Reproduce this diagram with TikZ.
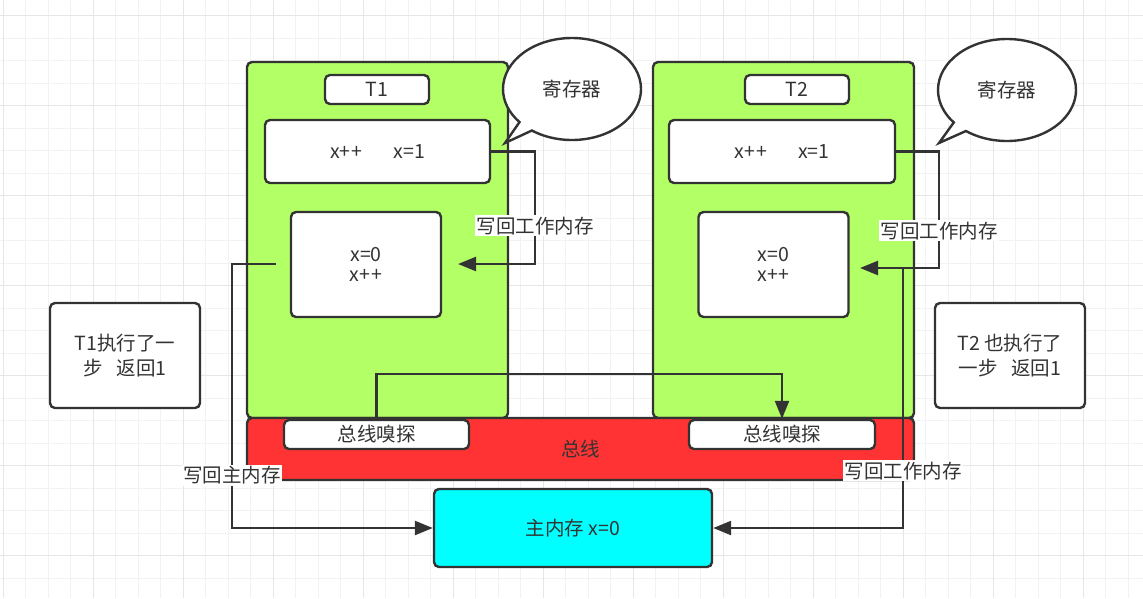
\documentclass[tikz,border=0pt]{standalone}
\usepackage{fontspec}
\usepackage{tikz}
\usetikzlibrary{arrows.meta,shapes.callouts,positioning}
\newfontfamily\cjkfont{Noto Sans CJK SC}
\definecolor{lineGray}{RGB}{51,51,51}
\definecolor{threadGreen}{RGB}{179,255,102}
\definecolor{busRed}{RGB}{255,51,51}
\definecolor{memCyan}{RGB}{0,255,255}
\definecolor{gridLight}{RGB}{242,242,242}
\definecolor{gridDark}{RGB}{230,230,230}
\tikzset{
  base/.style={draw=lineGray, line width=2.4pt, rounded corners=5pt, inner sep=0pt, text=lineGray, align=center},
  thread/.style={base, fill=threadGreen},
  cell/.style={base, fill=white},
  busbar/.style={base, fill=busRed},
  mainmem/.style={base, fill=memCyan},
  bubble/.style={ellipse callout, draw=lineGray, line width=2.4pt, fill=white, inner sep=0pt, text=lineGray, minimum width=138pt, minimum height=102pt, callout pointer arc=14},
  wire/.style={draw=lineGray, line width=2.4pt},
  arrow/.style={wire, -{Triangle[length=18pt,width=14pt]}},
  lbl/.style={fill=white, text=lineGray, inner sep=1.5pt},
  gridminor/.style={draw=gridLight, line width=1.2pt},
  gridmajor/.style={draw=gridDark, line width=1.2pt}
}
\begin{document}
\begin{tikzpicture}[x=1pt,y=-1pt,font=\cjkfont\fontsize{19.5}{25}\selectfont]
  \path[use as bounding box, fill=white] (0,0) rectangle (1143,598);
  \foreach \k in {0,...,50} \draw[gridminor] ({3.3+22.5*\k},0) -- ++(0,598);
  \foreach \k in {0,...,25} \draw[gridminor] (0,{15.7+22.5*\k}) -- ++(1143,0);
  \foreach \k in {0,4,...,48} \draw[gridmajor] ({3.3+22.5*\k},0) -- ++(0,598);
  \foreach \k in {0,4,...,24} \draw[gridmajor] (0,{15.7+22.5*\k}) -- ++(1143,0);

  \node[thread, minimum width=261pt, minimum height=356pt] (t1) at (377.5,240) {};
  \node[thread, minimum width=261pt, minimum height=356pt] (t2) at (783.5,240) {};
  \node[busbar, minimum width=667pt, minimum height=62pt] (bus) at (580.5,449) {总线};

  \node[cell, minimum width=104pt, minimum height=29pt] (t1tag) at (377,89.5) {T1};
  \node[cell, minimum width=225pt, minimum height=63pt] (t1reg) at (377.5,151.5) {x+\kern1pt+\hspace{1.6em}x=1};
  \node[cell, minimum width=150pt, minimum height=105pt, font=\cjkfont\fontsize{19.5}{20}\selectfont] (t1work) at (366,264.5) {x=0\\x+\kern1pt+};
  \node[cell, minimum width=104pt, minimum height=29pt] (t2tag) at (797,89.5) {T2};
  \node[cell, minimum width=226pt, minimum height=63pt] (t2reg) at (782,151.5) {x+\kern1pt+\hspace{1.6em}x=1};
  \node[cell, minimum width=150pt, minimum height=105pt, font=\cjkfont\fontsize{19.5}{20}\selectfont] (t2work) at (773.5,264.5) {x=0\\x+\kern1pt+};

  \node[cell, minimum width=185pt, minimum height=29pt] (snoop1) at (376.5,434.5) {总线嗅探};
  \node[cell, minimum width=186pt, minimum height=29pt] (snoop2) at (782,434.5) {总线嗅探};
  \node[mainmem, minimum width=278pt, minimum height=78pt] (mem) at (573,528) {主内存 x=0};

  \node[cell, minimum width=150pt, minimum height=105pt] (side1) at (125,355.5) {T1执行了一\\步\hspace{0.7em}返回1};
  \node[cell, minimum width=150pt, minimum height=105pt] (side2) at (1010,355.5) {T2 也执行了\\一步\hspace{0.7em}返回1};

  \node[bubble, callout absolute pointer={(505,143)}] (reg1) at (572,89) {寄存器};
  \node[bubble, callout absolute pointer={(939,143)}] (reg2) at (1007,90) {寄存器};

  \coordinate (t1in) at (458,264);
  \coordinate (t1out) at (276,264);
  \coordinate (t2in) at (860,268);
  \coordinate (t2tap) at (903,268);

  \draw[arrow] (t1reg.east) -- ++(44,0) |- node[lbl, pos=0.33] {写回工作内存} (t1in);
  \draw[arrow] (t1out) -- ++(-44,0) |- node[lbl, pos=0.4] {写回主内存} (mem.west);
  \draw[arrow] (t2reg.east) -- ++(43,0) |- node[lbl, pos=0.34] {写回工作内存} (t2in);
  \draw[arrow] (t2tap) |- node[lbl, pos=0.39] {写回工作内存} (mem.east);
  \draw[arrow] (snoop1.north) -- ++(0,-45) -| (snoop2.north);
\end{tikzpicture}
\end{document}
